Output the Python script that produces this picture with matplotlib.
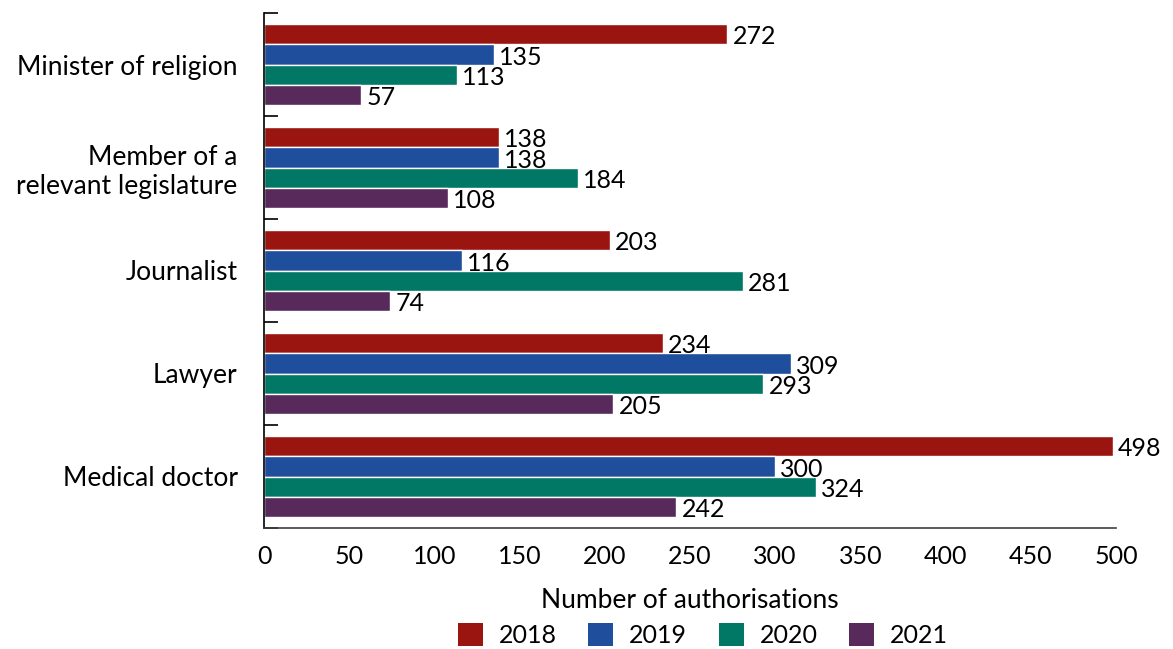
import matplotlib
matplotlib.use("Agg")
import matplotlib.pyplot as plt
from matplotlib.patches import Patch
import numpy as np

plt.rcParams['font.family'] = ['Lato', 'DejaVu Sans']

categories = ["Minister of religion", "Member of a\nrelevant legislature", "Journalist",
              "Lawyer", "Medical doctor"]
years = ["2018", "2019", "2020", "2021"]
values_2018 = [272, 138, 203, 234, 498]
values_2019 = [135, 138, 116, 309, 300]
values_2020 = [113, 184, 281, 293, 324]
values_2021 = [57, 108, 74, 205, 242]
series = [values_2018, values_2019, values_2020, values_2021]
colors = ["#9A1510", "#1F4E9C", "#007865", "#582A5B"]
x_ticks = list(range(0, 501, 50))

fig = plt.figure(figsize=(11.73, 6.49), dpi=100)
ax = fig.add_axes([264 / 1173, 1 - 528 / 649, 852 / 1173, 515 / 649])

n = len(categories)
centers = np.arange(n)[::-1]  # first category at the top
bar_h = 0.195
for i, (vals, col, yr) in enumerate(zip(series, colors, years)):
    offs = (1.5 - i) * bar_h
    ypos = centers + offs
    ax.barh(ypos, vals, height=bar_h, color=col, edgecolor="white", linewidth=1.0, label=yr)
    for y, v in zip(ypos, vals):
        ax.text(v + 3, y - 0.025, str(v), va="center", ha="left", fontsize=18, color="black")

ax.set_xlim(0, 500)
ax.set_ylim(-0.5, n - 0.5)
ax.set_xticks(x_ticks)
ax.set_xticklabels([str(t) for t in x_ticks], fontsize=18)
ax.tick_params(axis="x", length=0, pad=12)

ax.set_yticks(centers)
ax.set_yticklabels(categories, fontsize=19, linespacing=1.2)
ax.tick_params(axis="y", which="major", length=0, pad=19)
ax.set_yticks(np.arange(-0.5, n, 1.0), minor=True)
ax.tick_params(axis="y", which="minor", direction="in", length=10, width=1.2, color="black")

for s in ["top", "right"]:
    ax.spines[s].set_visible(False)
ax.spines["left"].set_color("black")
ax.spines["left"].set_linewidth(1.2)
ax.spines["bottom"].set_color("#404040")
ax.spines["bottom"].set_linewidth(1.2)

ax.set_xlabel("Number of authorisations", fontsize=19, labelpad=15)

handles = [Patch(facecolor=c, label=y) for c, y in zip(colors, years)]
fig.legend(handles=handles, loc="center", bbox_to_anchor=(703 / 1173, 1 - 635 / 649),
           ncol=4, frameon=False, fontsize=18, handlelength=1.0, handleheight=1.0,
           handletextpad=0.65, columnspacing=1.25, borderaxespad=0)

fig.savefig("out.png", dpi=100)
